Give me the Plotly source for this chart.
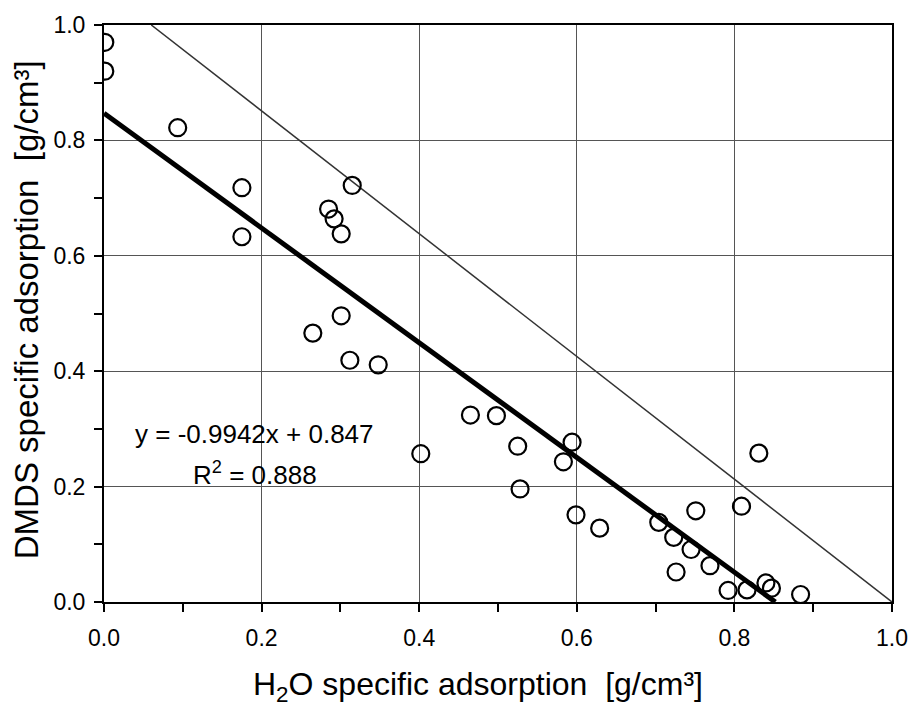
import plotly.graph_objects as go

h2o = [0.001, 0.001, 0.0935, 0.175, 0.175, 0.315, 0.285, 0.292, 0.301,
       0.265, 0.301, 0.312, 0.348, 0.465, 0.498, 0.525, 0.402,
       0.594, 0.583, 0.528, 0.599, 0.629, 0.704, 0.723, 0.726,
       0.831, 0.751, 0.809, 0.745, 0.769, 0.792, 0.816, 0.840, 0.847, 0.884]
dmds = [0.970, 0.920, 0.822, 0.718, 0.633, 0.722, 0.681, 0.664, 0.638,
        0.466, 0.496, 0.419, 0.411, 0.324, 0.323, 0.270, 0.257,
        0.277, 0.243, 0.196, 0.151, 0.128, 0.138, 0.112, 0.052,
        0.258, 0.158, 0.166, 0.091, 0.063, 0.020, 0.021, 0.033, 0.024, 0.013]

slope = -0.9942
intercept = 0.847
r2 = 0.888

ref_x = [0.06, 1.0]
ref_y = [1.0, 0.0]

fit_x = [0.0, -intercept / slope]
fit_y = [intercept + slope * v for v in fit_x]

font = "Liberation Sans, Arial, sans-serif"

fig = go.Figure()
fig.add_trace(go.Scatter(x=ref_x, y=ref_y, mode="lines",
                         line=dict(color="#333333", width=1.5), hoverinfo="skip"))
fig.add_trace(go.Scatter(x=fit_x, y=fit_y, mode="lines",
                         line=dict(color="black", width=5), hoverinfo="skip"))
fig.add_trace(go.Scatter(x=h2o, y=dmds, mode="markers",
                         marker=dict(symbol="circle-open", size=17, color="black",
                                     line=dict(width=2.2, color="black"))))

fig.add_annotation(x=0.191, y=0.2916, xref="x", yref="y", showarrow=False,
                   text=f"y = {slope}x + {intercept}", font=dict(size=26, color="black", family=font))
fig.add_annotation(x=0.191, y=0.2226, xref="x", yref="y", showarrow=False,
                   text=f"R<sup>2</sup> = {r2}", font=dict(size=26, color="black", family=font))

# axis titles
fig.add_annotation(x=0.474, y=-0.147, xref="paper", yref="paper", showarrow=False,
                   xanchor="center", yanchor="middle",
                   text="H<sub>2</sub>O specific adsorption  [g/cm³]",
                   font=dict(size=32, color="black", family=font))
fig.add_annotation(x=-0.098, y=0.507, xref="paper", yref="paper", showarrow=False,
                   xanchor="center", yanchor="middle", textangle=-90,
                   text="DMDS specific adsorption  [g/cm³]",
                   font=dict(size=33, color="black", family=font))

axis_common = dict(
    range=[0, 1.0], dtick=0.2, tick0=0, tickformat=".1f",
    showgrid=True, gridcolor="#555555", gridwidth=1,
    showline=True, linecolor="black", linewidth=2, mirror=True,
    ticks="outside", ticklen=8, tickwidth=1.5, tickcolor="black",
    minor=dict(dtick=0.1, ticks="outside", ticklen=8, tickwidth=1.5, tickcolor="black", showgrid=False),
    zeroline=False,
    tickfont=dict(size=23, color="black", family=font),
)

fig.update_layout(
    width=920, height=708,
    margin=dict(l=104, r=21, t=23, b=106),
    plot_bgcolor="white", paper_bgcolor="white",
    showlegend=False,
    xaxis=dict(**axis_common, ticklabelstandoff=6),
    yaxis=dict(**axis_common, ticklabelstandoff=4),
)

fig.write_html("out.html")
